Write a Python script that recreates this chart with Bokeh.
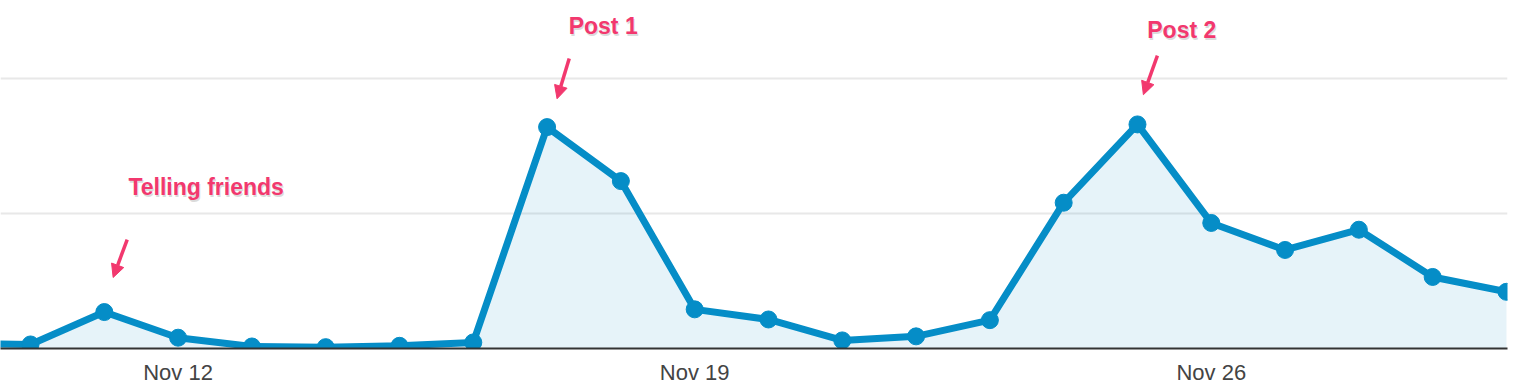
from datetime import datetime
from bokeh.plotting import figure
from bokeh.models import (Range1d, FixedTicker, Grid, DatetimeTickFormatter,
                          Label, Arrow, NormalHead, ColumnDataSource)
from bokeh.embed import file_html
from bokeh.resources import INLINE

# ---- data ----
dates = ["2015-11-09", "2015-11-10", "2015-11-11", "2015-11-12", "2015-11-13",
         "2015-11-14", "2015-11-15", "2015-11-16", "2015-11-17", "2015-11-18",
         "2015-11-19", "2015-11-20", "2015-11-21", "2015-11-22", "2015-11-23",
         "2015-11-24", "2015-11-25", "2015-11-26", "2015-11-27", "2015-11-28",
         "2015-11-29", "2015-11-30"]
sessions = [4, 3, 27, 8, 1.5, 1, 2, 4.5, 164, 124, 29, 21.5, 6, 9, 21,
            108, 166, 93, 73, 88, 53, 42]
tick_dates = ["2015-11-12", "2015-11-19", "2015-11-26"]
annot_labels = ["Telling friends", "Post 1", "Post 2"]
annot_dates = ["2015-11-11", "2015-11-17", "2015-11-25"]

DAY = 86400000.0
def ms(s):
    return (datetime.strptime(s, "%Y-%m-%d") - datetime(1970, 1, 1)).total_seconds() * 1000.0

xs = [ms(d) for d in dates]
src = ColumnDataSource(dict(x=xs, y=sessions, y0=[0] * len(xs)))

BLUE = "#058dc7"
PINK = "#f2386e"

x_start = ms("2015-11-10") - 0.4065 * DAY
x_end = ms("2015-11-30") + 0.014 * DAY

p = figure(frame_width=1507, frame_height=348, output_backend="svg",
           toolbar_location=None, y_axis_location=None,
           x_range=Range1d(x_start, x_end), y_range=Range1d(0, 257.8),
           min_border_left=0, min_border_right=9, min_border_top=0,
           min_border_bottom=0, x_axis_type="datetime")
p.outline_line_color = None
p.xgrid.visible = False
p.ygrid.visible = False
p.background_fill_color = "white"
p.border_fill_color = "white"

p.add_layout(Grid(dimension=1, ticker=FixedTicker(ticks=[100, 200]),
                  grid_line_color="#e8e8e8", grid_line_width=2))

p.varea(x="x", y1="y0", y2="y", source=src, fill_color=BLUE, fill_alpha=0.1)
p.line(x="x", y="y", source=src, line_color=BLUE, line_width=7, line_join="round")
p.scatter(x="x", y="y", source=src, size=17, fill_color=BLUE, line_color=BLUE)

ax = p.xaxis[0]
ax.ticker = FixedTicker(ticks=[ms(d) for d in tick_dates])
ax.formatter = DatetimeTickFormatter(days="%b %d", months="%b %d", hours="%b %d")
ax.major_tick_line_color = None
ax.minor_tick_line_color = None
ax.axis_line_color = "#333333"
ax.axis_line_width = 2
ax.major_label_text_font = "Liberation Sans"
ax.major_label_text_font_size = "22px"
ax.major_label_text_color = "#444444"
ax.major_label_standoff = 5

# annotations: text above, arrow pointing to the data point
text_dx = [1.38, 0.76, 0.60]
text_y = [120, 239, 236]
arrow_tail = [(0.31, 80.7), (0.30, 214.8), (0.27, 217)]
arrow_head = [(0.12, 52.6), (0.135, 185), (0.08, 188)]
for lab, d, dx, ty, (tx0, ty0), (hx, hy) in zip(annot_labels, annot_dates, text_dx,
                                                 text_y, arrow_tail, arrow_head):
    base = ms(d)
    p.add_layout(Label(x=base + dx * DAY, y=ty, text=lab, text_align="center",
                       text_baseline="middle", text_font="Liberation Sans",
                       text_font_size="23px", text_font_style="bold",
                       text_color="#999999", text_alpha=0.35, x_offset=1, y_offset=-2))
    p.add_layout(Label(x=base + dx * DAY, y=ty, text=lab, text_align="center",
                       text_baseline="middle", text_font="Liberation Sans",
                       text_font_size="23px", text_font_style="bold",
                       text_color=PINK))
    p.add_layout(Arrow(x_start=base + tx0 * DAY, y_start=ty0,
                       x_end=base + hx * DAY, y_end=hy,
                       line_color=PINK, line_width=3.5,
                       end=NormalHead(size=13, fill_color=PINK, line_color=PINK)))

open("out.html", "w").write(file_html(p, INLINE))
